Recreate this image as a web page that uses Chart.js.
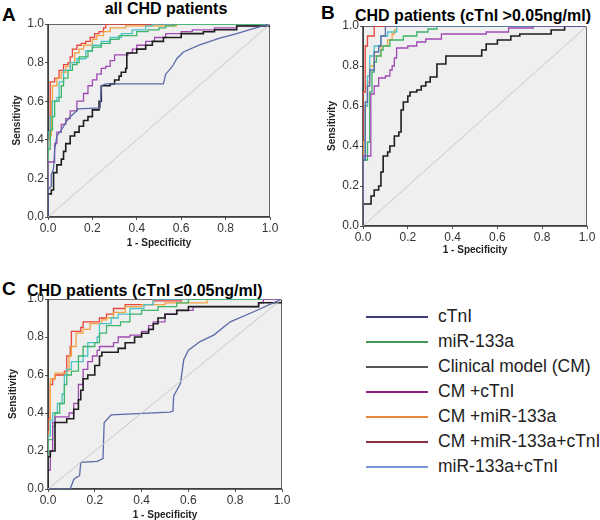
<!DOCTYPE html>
<html>
<head>
<meta charset="utf-8">
<script src="https://cdn.jsdelivr.net/npm/chart.js@4.4.0/dist/chart.umd.min.js"></script>
<style>
  body { margin: 0; width: 600px; height: 520px; background: #fff; position: relative; overflow: hidden;
         font-family: "Liberation Sans", Arial, sans-serif; }
  canvas { position: absolute; }
  .letter { position: absolute; font-weight: bold; font-size: 19px; line-height: 1; color: #000; }
  .title { position: absolute; font-weight: bold; font-size: 16px; line-height: 1; white-space: nowrap; color: #000; }
  #legend { position: absolute; left: 366px; top: 304px; }
  .row { height: 25px; display: flex; align-items: center; font-size: 17.5px; color: #222; white-space: nowrap; }
  .row .ln { display: inline-block; width: 62px; height: 2px; margin-right: 10px; }
</style>
</head>
<body>
<div class="letter" style="left:2px;top:5px">A</div>
<div class="title" style="left:66px;top:1px;width:200px;text-align:center">all CHD patients</div>
<div class="letter" style="left:321px;top:3px">B</div>
<div class="title" style="left:355px;top:8px">CHD patients (cTnI &gt;0.05ng/ml)</div>
<div class="letter" style="left:2px;top:279px">C</div>
<div class="title" style="left:27px;top:283px">CHD patients (cTnI ≤0.05ng/ml)</div>

<canvas id="chartA" width="282" height="252" style="left:0;top:0"></canvas>
<canvas id="chartB" width="283" height="262" style="left:315px;top:0"></canvas>
<canvas id="chartC" width="292" height="252" style="left:0;top:270px"></canvas>
<div id="legend"></div>

<script>
// series, in legend order
const seriesNames = ['cTnI', 'miR-133a', 'Clinical model (CM)', 'CM +cTnI', 'CM +miR-133a', 'CM +miR-133a+cTnI', 'miR-133a+cTnI'];
const plotColors = ['#5b6aa8', '#3db56a', '#1e1e1e', '#a04ab4', '#f4a340', '#e8463a', '#4cc4c8'];
const legendColors = ['#3c3c7c', '#3c9a52', '#555555', '#8a1e82', '#e8883c', '#8a3040', '#7896d6'];
const xTicks = [0, 0.2, 0.4, 0.6, 0.8, 1.0];
const yTicks = [0, 0.2, 0.4, 0.6, 0.8, 1.0];
const diagonal = [[0, 0], [1, 1]];

// A: all CHD patients  (points are [1 - specificity, sensitivity])
const aCTnI = [[0,0],[0,0.14],[0.015,0.16],[0.015,0.22],[0.025,0.25],[0.03,0.35],[0.04,0.42],[0.06,0.45],[0.08,0.49],[0.1,0.52],[0.13,0.55],[0.135,0.56],[0.235,0.565],[0.24,0.68],[0.26,0.69],[0.52,0.69],[0.53,0.74],[0.56,0.78],[0.58,0.82],[0.61,0.855],[0.68,0.89],[0.77,0.925],[0.85,0.95],[0.92,0.975],[1,1]];
const aMiR = [[0,0],[0,0.35],[0.01,0.45],[0.02,0.52],[0.03,0.6],[0.05,0.62],[0.06,0.68],[0.07,0.72],[0.09,0.76],[0.11,0.79],[0.13,0.8],[0.14,0.83],[0.18,0.86],[0.2,0.88],[0.24,0.9],[0.28,0.92],[0.32,0.94],[0.4,0.96],[0.45,0.97],[0.5,0.98],[0.53,0.99],[0.57,1],[1,1]];
const aCM = [[0,0],[0,0.12],[0.015,0.14],[0.025,0.23],[0.04,0.27],[0.06,0.3],[0.07,0.34],[0.08,0.38],[0.1,0.42],[0.12,0.44],[0.14,0.47],[0.16,0.5],[0.18,0.52],[0.2,0.555],[0.23,0.6],[0.24,0.68],[0.28,0.69],[0.3,0.71],[0.32,0.73],[0.33,0.75],[0.35,0.77],[0.355,0.85],[0.4,0.87],[0.44,0.89],[0.47,0.91],[0.52,0.93],[0.6,0.95],[0.7,0.96],[0.75,0.97],[0.85,0.99],[1,1]];
const aCMcTnI = [[0,0],[0,0.285],[0.03,0.38],[0.04,0.44],[0.06,0.48],[0.08,0.51],[0.1,0.55],[0.13,0.6],[0.16,0.64],[0.18,0.68],[0.2,0.71],[0.22,0.74],[0.24,0.77],[0.26,0.78],[0.28,0.81],[0.3,0.84],[0.36,0.85],[0.38,0.87],[0.4,0.89],[0.44,0.91],[0.48,0.93],[0.53,0.95],[0.6,0.96],[0.65,0.97],[0.75,0.98],[0.85,0.99],[1,1]];
const aCMmiR = [[0,0],[0,0.4],[0.01,0.42],[0.015,0.6],[0.02,0.68],[0.04,0.72],[0.06,0.75],[0.08,0.78],[0.1,0.8],[0.12,0.85],[0.14,0.87],[0.16,0.89],[0.2,0.92],[0.22,0.94],[0.25,0.96],[0.28,0.98],[0.35,0.99],[0.58,1],[1,1]];
const aCMmiRcTnI = [[0,0],[0,0.4],[0.01,0.7],[0.03,0.72],[0.05,0.76],[0.07,0.79],[0.09,0.8],[0.1,0.83],[0.11,0.87],[0.13,0.89],[0.15,0.9],[0.17,0.91],[0.19,0.93],[0.21,0.95],[0.23,0.96],[0.25,0.98],[0.26,1],[1,1]];
const aMiRcTnI = [[0,0],[0,0.44],[0.01,0.52],[0.02,0.6],[0.04,0.62],[0.05,0.7],[0.07,0.76],[0.1,0.8],[0.13,0.82],[0.17,0.86],[0.2,0.89],[0.24,0.91],[0.28,0.93],[0.33,0.95],[0.38,0.97],[0.44,0.99],[0.47,1],[1,1]];

// B: cTnI > 0.05 ng/ml
const bCTnI = [[0,0],[0,0.33],[0.01,0.62],[0.02,0.7],[0.03,0.78],[0.05,0.87],[0.07,0.9],[0.08,0.95],[0.1,1],[1,1]];
const bMiR = [[0,0],[0,0.33],[0.02,0.42],[0.03,0.67],[0.04,0.77],[0.05,0.82],[0.06,0.85],[0.08,0.88],[0.09,0.9],[0.12,0.93],[0.18,0.95],[0.24,0.97],[0.29,0.985],[0.33,1],[1,1]];
const bCM = [[0,0],[0,0.11],[0.036,0.15],[0.05,0.18],[0.07,0.2],[0.08,0.27],[0.09,0.35],[0.11,0.37],[0.12,0.4],[0.14,0.45],[0.16,0.47],[0.17,0.58],[0.18,0.62],[0.2,0.65],[0.21,0.67],[0.24,0.68],[0.26,0.7],[0.28,0.72],[0.3,0.745],[0.33,0.81],[0.37,0.85],[0.53,0.88],[0.55,0.91],[0.6,0.93],[0.66,0.95],[0.7,0.96],[0.84,0.98],[0.9,1],[1,1]];
const bCMcTnI = [[0,0],[0,0.35],[0.035,0.66],[0.05,0.7],[0.07,0.74],[0.1,0.75],[0.12,0.78],[0.13,0.8],[0.14,0.84],[0.15,0.89],[0.2,0.9],[0.24,0.92],[0.28,0.935],[0.35,0.96],[0.55,0.97],[0.65,0.99],[0.76,1],[1,1]];
const bCMmiR = [[0,0],[0,0.42],[0.01,0.6],[0.02,0.72],[0.03,0.8],[0.05,0.85],[0.08,0.9],[0.11,0.93],[0.13,0.96],[0.14,0.98],[0.15,1],[1,1]];
const bCMmiRcTnI = [[0,0],[0,0.67],[0.01,0.9],[0.02,0.95],[0.05,1],[1,1]];
const bMiRcTnI = [[0,0],[0,0.34],[0.01,0.6],[0.02,0.75],[0.03,0.85],[0.05,0.9],[0.08,0.95],[0.11,0.97],[0.15,1],[1,1]];

// C: cTnI <= 0.05 ng/ml
const cCTnI = [[0,0],[0.095,0],[0.11,0.05],[0.12,0.06],[0.135,0.07],[0.14,0.14],[0.21,0.145],[0.235,0.16],[0.24,0.35],[0.27,0.39],[0.52,0.405],[0.534,0.41],[0.537,0.49],[0.566,0.555],[0.58,0.68],[0.6,0.73],[0.65,0.776],[0.708,0.81],[0.779,0.88],[0.879,0.933],[1,1]];
const cMiR = [[0,0],[0,0.26],[0.02,0.33],[0.03,0.4],[0.05,0.45],[0.07,0.55],[0.08,0.6],[0.1,0.62],[0.13,0.7],[0.15,0.75],[0.2,0.77],[0.22,0.82],[0.25,0.86],[0.31,0.88],[0.35,0.92],[0.4,0.94],[0.47,0.96],[0.55,0.98],[0.6,1],[1,1]];
const cCM = [[0,0],[0,0.17],[0.01,0.2],[0.03,0.35],[0.08,0.37],[0.11,0.42],[0.13,0.47],[0.14,0.52],[0.15,0.58],[0.17,0.6],[0.2,0.65],[0.22,0.7],[0.23,0.72],[0.3,0.74],[0.33,0.77],[0.37,0.8],[0.4,0.82],[0.43,0.84],[0.45,0.87],[0.47,0.9],[0.5,0.92],[0.55,0.94],[0.6,0.96],[0.9,0.98],[1,1]];
const cCMcTnI = [[0,0],[0,0.1],[0.01,0.2],[0.02,0.35],[0.03,0.38],[0.09,0.4],[0.11,0.45],[0.13,0.55],[0.15,0.63],[0.17,0.67],[0.19,0.7],[0.21,0.73],[0.22,0.75],[0.28,0.77],[0.3,0.8],[0.35,0.81],[0.4,0.83],[0.43,0.86],[0.45,0.88],[0.5,0.92],[0.55,0.94],[0.62,0.96],[0.9,0.98],[0.92,1],[1,1]];
const cCMmiR = [[0,0],[0,0.3],[0.01,0.58],[0.03,0.61],[0.08,0.62],[0.09,0.7],[0.1,0.75],[0.12,0.82],[0.15,0.84],[0.18,0.87],[0.23,0.89],[0.25,0.9],[0.28,0.93],[0.33,0.96],[0.4,0.97],[0.5,0.98],[0.68,1],[1,1]];
const cCMmiRcTnI = [[0,0],[0,0.37],[0.01,0.55],[0.02,0.58],[0.03,0.6],[0.07,0.62],[0.08,0.7],[0.095,0.75],[0.1,0.83],[0.14,0.85],[0.15,0.88],[0.22,0.9],[0.25,0.92],[0.28,0.95],[0.33,0.97],[0.45,0.99],[0.57,1],[1,1]];
const cMiRcTnI = [[0,0],[0,0.28],[0.01,0.36],[0.02,0.4],[0.04,0.45],[0.06,0.5],[0.07,0.6],[0.08,0.63],[0.1,0.67],[0.15,0.7],[0.17,0.77],[0.21,0.8],[0.22,0.87],[0.27,0.9],[0.3,0.92],[0.35,0.95],[0.41,0.97],[0.45,1],[1,1]];

// draw back to front
const drawOrder = [0, 2, 3, 1, 6, 4, 5];

const plotFrame = {
  id: 'plotFrame',
  beforeDraw(chart) {
    const a = chart.chartArea, ctx = chart.ctx;
    ctx.save();
    ctx.fillStyle = '#efefef';
    ctx.fillRect(a.left, a.top, a.right - a.left, a.bottom - a.top);
    ctx.restore();
  },
  beforeDatasetsDraw(chart) {
    const a = chart.chartArea, ctx = chart.ctx;
    ctx.save();
    ctx.strokeStyle = '#666';
    ctx.lineWidth = 1;
    ctx.strokeRect(a.left + 0.5, a.top + 0.5, a.right - a.left - 1, a.bottom - a.top - 1);
    ctx.strokeStyle = '#333';
    ctx.lineWidth = 1.5;
    ctx.beginPath();
    ctx.moveTo(a.left, a.top);
    ctx.lineTo(a.left, a.bottom);
    ctx.lineTo(a.right, a.bottom);
    ctx.stroke();
    ctx.restore();
  }
};

function toXY(pts) {
  return pts.map(p => ({ x: p[0], y: p[1] }));
}

function makeChart(id, curves, smooth, pad, yW, xH, yTitlePad, xTitlePad) {
  const datasets = [{
    data: toXY(diagonal), borderColor: '#c8c8c8', borderWidth: 1, pointRadius: 0
  }];
  drawOrder.forEach(i => {
    datasets.push({
      label: seriesNames[i],
      data: toXY(curves[i]),
      borderColor: plotColors[i],
      borderWidth: i === 2 ? 1.6 : 1.3,
      stepped: smooth.includes(i) ? false : 'before',
      pointRadius: 0
    });
  });
  const tickFont = { size: 12, family: 'Liberation Sans' };
  const titleFont = { size: 10, weight: 'bold', family: 'Liberation Sans' };
  return new Chart(id, {
    type: 'line',
    data: { datasets: datasets },
    options: {
      animation: false,
      responsive: false,
      layout: { padding: pad },
      plugins: { legend: { display: false }, tooltip: { enabled: false } },
      scales: {
        x: {
          type: 'linear', min: 0, max: 1,
          afterBuildTicks: s => { s.ticks = xTicks.map(v => ({ value: v })); },
          afterFit: s => { s.height = xH; },
          ticks: { padding: 1, color: '#333', font: tickFont, maxRotation: 0, autoSkip: false,
                   callback: v => v.toFixed(1) },
          grid: { drawOnChartArea: false, tickLength: 3, color: '#555' },
          border: { display: false },
          title: { display: true, text: '1 - Specificity', color: '#222', font: titleFont,
                   padding: { top: 0, bottom: xTitlePad } }
        },
        y: {
          type: 'linear', min: 0, max: 1,
          afterBuildTicks: s => { s.ticks = yTicks.map(v => ({ value: v })); },
          afterFit: s => { s.width = yW; },
          ticks: { padding: 1, color: '#333', font: tickFont, autoSkip: false,
                   callback: v => v.toFixed(1) },
          grid: { drawOnChartArea: false, tickLength: 3, color: '#555' },
          border: { display: false },
          title: { display: true, text: 'Sensitivity', color: '#222', font: titleFont,
                   padding: { top: yTitlePad, bottom: 0 } }
        }
      }
    },
    plugins: [plotFrame]
  });
}

makeChart('chartA', [aCTnI, aMiR, aCM, aCMcTnI, aCMmiR, aCMmiRcTnI, aMiRcTnI], [0],
  { top: 24, right: 12, bottom: 0, left: 0 }, 48, 35, 11, 3);
makeChart('chartB', [bCTnI, bMiR, bCM, bCMcTnI, bCMmiR, bCMmiRcTnI, bMiRcTnI], [],
  { top: 26, right: 11, bottom: 0, left: 0 }, 48, 36, 11, 6);
makeChart('chartC', [cCTnI, cMiR, cCM, cCMcTnI, cCMmiR, cCMmiRcTnI, cMiRcTnI], [0],
  { top: 29, right: 10, bottom: 0, left: 0 }, 48, 33, 7, 1);

// legend
const legend = document.getElementById('legend');
seriesNames.forEach((name, i) => {
  const row = document.createElement('div');
  row.className = 'row';
  row.innerHTML = '<span class="ln" style="background:' + legendColors[i] + '"></span>' + name;
  legend.appendChild(row);
});
</script>
</body>
</html>
